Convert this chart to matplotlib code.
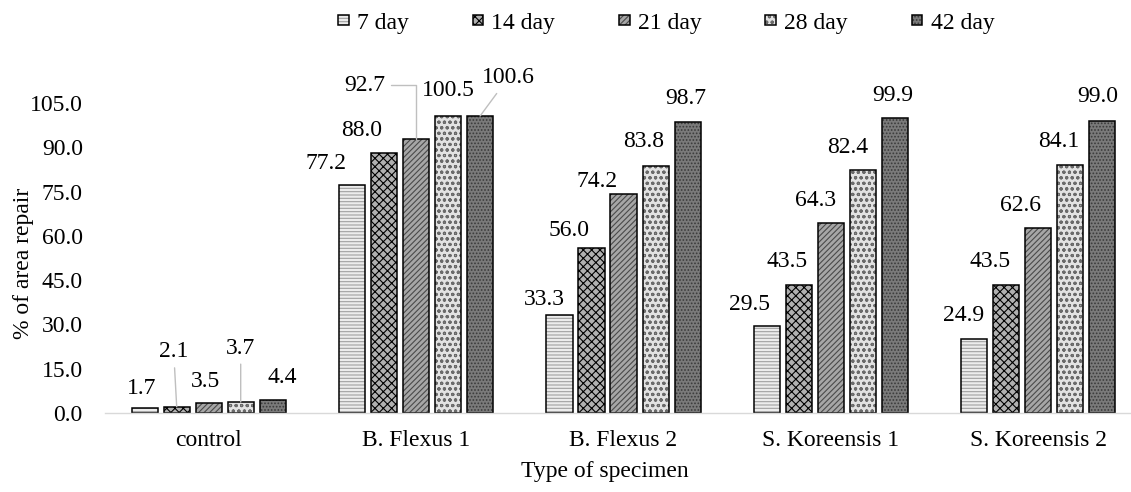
import numpy as np
import matplotlib
matplotlib.use("Agg")
import matplotlib.pyplot as plt

plt.rcParams['font.family'] = ['Liberation Serif', 'DejaVu Serif']
plt.rcParams['hatch.linewidth'] = 0.8

# data
categories = ['control', 'B. Flexus 1', 'B. Flexus 2', 'S. Koreensis 1', 'S. Koreensis 2']
series = ['7 day', '14 day', '21 day', '28 day', '42 day']
day7 = [1.7, 77.2, 33.3, 29.5, 24.9]
day14 = [2.1, 88.0, 56.0, 43.5, 43.5]
day21 = [3.5, 92.7, 74.2, 64.3, 62.6]
day28 = [3.7, 100.5, 83.8, 82.4, 84.1]
day42 = [4.4, 100.6, 98.7, 99.9, 99.0]
values = [day7, day14, day21, day28, day42]
yticks = [0, 15, 30, 45, 60, 75, 90, 105]

# look of each series: face, hatch, hatch colour
faces = ['#ececec', '#b0b0b0', '#a6a6a6', '#e2e2e2', '#7a7a7a']
hatches = ['-----', 'xxxx', '//////', 'ooo', '.....']
hatch_cols = ['#a0a0a0', '#000000', '#4a4a4a', '#6a6a6a', '#3a3a3a']

# hand placed data labels (pixel offset of label centre from bar top), per series
label_off = [
    [(-3, 19), (-26, 22), (-15, 15), (-17, 21), (-11, 24)],
    [(-3, 55), (-22, 23), (-22, 17), (-12, 23), (-16, 23)],
    [(-3, 21), (-51, 54), (-26, 12), (-15, 23), (-18, 23)],
    [(0, 54), (0, 26), (-12, 24), (-15, 22), (-12, 23)],
    [(10, 23), (28, 38), (-2, 23), (-2, 23), (-5, 24)],
]
leaders = {(1, 0): 'arc3', (3, 0): 'arc3', (2, 1): 'angle,angleA=0,angleB=90,rad=0', (4, 1): 'arc3'}

fig = plt.figure(figsize=(11.31, 4.92), dpi=100)
ax = fig.add_axes([0.09284, 0.16057, 0.91689, 0.63008])

x = np.arange(len(categories))
w = 0.1254
step = 0.1543
handles = []
for i, vals in enumerate(values):
    xs = x + (i - 2) * step
    b1 = ax.bar(xs, vals, w, color=faces[i], hatch=hatches[i], edgecolor=hatch_cols[i], linewidth=0)
    b2 = ax.bar(xs, vals, w, fill=False, edgecolor='black', linewidth=1.1)
    handles.append((b1[0], b2[0]))
    for j, v in enumerate(vals):
        dx, dy = label_off[i][j]
        kw = {}
        if (i, j) in leaders:
            kw['arrowprops'] = dict(arrowstyle='-', color='#bfbfbf', lw=1,
                                    connectionstyle=leaders[(i, j)], shrinkA=2, shrinkB=0)
        ax.annotate(f'{v:.1f}', xy=(xs[j], v), xytext=(dx, dy), textcoords='offset pixels',
                    ha='center', va='center', fontsize=17, **kw)

ax.set_xlim(-0.5, 4.5)
ax.set_ylim(0, 105)
ax.set_yticks(yticks)
ax.set_yticklabels([f'{t:.1f}' for t in yticks])
ax.set_xticks(x)
ax.set_xticklabels(categories)
ax.tick_params(axis='both', length=0, labelsize=17)
ax.tick_params(axis='y', pad=16)
ax.tick_params(axis='x', pad=12)
for s in ['top', 'right', 'left']:
    ax.spines[s].set_visible(False)
ax.spines['bottom'].set_color('#d9d9d9')
ax.spines['bottom'].set_linewidth(1)

ax.set_xlabel('Type of specimen', fontsize=17)
ax.xaxis.label.set_va('center')
ax.xaxis.set_label_coords(0.482, -0.19)
ax.set_ylabel('% of area repair', fontsize=17)
ax.yaxis.label.set_va('center')
ax.yaxis.set_label_coords(-0.079, 0.484)

fig.legend(handles, series, loc='center', bbox_to_anchor=(0.589, 0.953), ncol=5, frameon=False,
           fontsize=17, handlelength=0.45, handleheight=0.3, handletextpad=0.35,
           columnspacing=2.7, borderpad=0)

fig.savefig('out.png', dpi=100)
